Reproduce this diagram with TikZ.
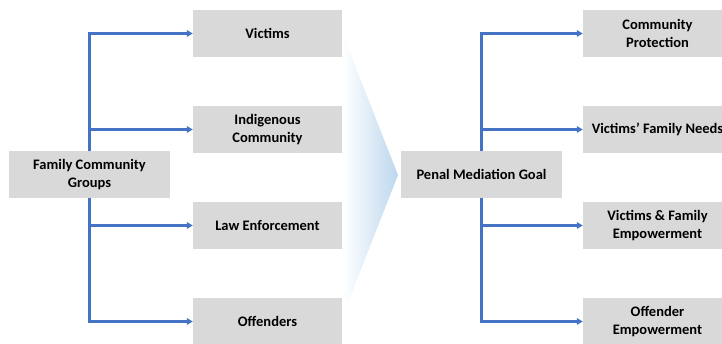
\documentclass[tikz,border=0pt]{standalone}
\usepackage{fontspec}
\setmainfont{Carlito}
\usetikzlibrary{arrows.meta}

\newlength{\du}
\setlength{\du}{1pt}

\definecolor{boxgray}{RGB}{217,217,217}
\definecolor{linkblue}{RGB}{68,114,196}
\definecolor{chevblue}{RGB}{189,215,238}

\tikzset{
  gbox/.style={fill=boxgray, minimum width=149\du, minimum height=47\du, inner sep=0pt,
    align=center, font=\bfseries\fontsize{14.5}{17.5}\selectfont},
  widebox/.style={gbox, minimum width=161\du},
  link/.style={draw=linkblue, line width=2.2pt, -{Triangle[length=6pt,width=6.5pt]}}
}

\begin{document}
\begin{tikzpicture}
\pgftransformxscale{1.000000}
\pgftransformyscale{-1.000000}
\useasboundingbox (0\du,0\du) rectangle (722\du,343\du);
% chevron behind the boxes
\shade[left color=white, right color=chevblue] (343\du,40\du)--(345\du,40\du)--(398\du,175\du)--(345\du,310\du)--(343\du,310\du)--cycle;
% left side
\node[widebox] (fcg) at (89.5\du,174.5\du){Family Community\\Groups};
\node[gbox] (victims) at (267.5\du,33.5\du){Victims};
\node[gbox] (indig) at (267.5\du,129.5\du){Indigenous\\Community};
\node[gbox] (law) at (267.5\du,225.5\du){Law Enforcement};
\node[gbox] (offend) at (267.5\du,321.5\du){Offenders};
\draw[link] (fcg.north) |- (victims.west);
\draw[link] (fcg.north) |- (indig.west);
\draw[link] (fcg.south) |- (law.west);
\draw[link] (fcg.south) |- (offend.west);
% right side
\node[widebox] (goal) at (481.5\du,174.5\du){Penal Mediation Goal};
\node[gbox] (protect) at (657.5\du,33.5\du){Community\\Protection};
\node[gbox] (needs) at (657.5\du,129.5\du){Victims’ Family Needs};
\node[gbox] (empower) at (657.5\du,225.5\du){Victims \& Family\\Empowerment};
\node[gbox] (offemp) at (657.5\du,321.5\du){Offender\\Empowerment};
\draw[link] (goal.north) |- (protect.west);
\draw[link] (goal.north) |- (needs.west);
\draw[link] (goal.south) |- (empower.west);
\draw[link] (goal.south) |- (offemp.west);
\end{tikzpicture}
\end{document}
